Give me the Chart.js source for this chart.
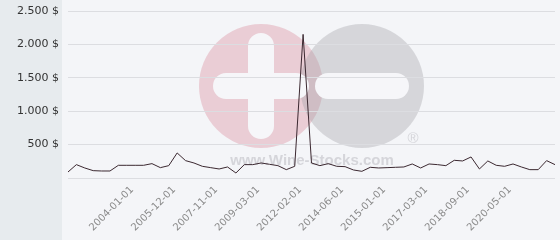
<!DOCTYPE html>
<html>
<head>
<meta charset="utf-8">
<script src="https://cdn.jsdelivr.net/npm/chart.js@4/dist/chart.umd.min.js"></script>
<style>
    html, body { margin: 0; padding: 0; background: #f4f5f8; }
    #caixa { width: 560px; height: 240px; position: relative; }
</style>
</head>
<body>
<div id="caixa"><canvas id="grafico-preco"></canvas></div>
<script>
// datas de cada ponto (eixo de categorias)
const datas = [
    '2001-03-01', '2001-07-01', '2001-11-01', '2002-03-01', '2002-07-01', '2002-11-01', '2003-03-01', '2003-08-01',
    '2004-01-01', '2004-06-01', '2004-11-01', '2005-03-01', '2005-08-01',
    '2005-12-01', '2006-05-01', '2006-09-01', '2007-02-01', '2007-06-01',
    '2007-11-01', '2008-02-01', '2008-05-01', '2008-09-01', '2008-12-01',
    '2009-03-01', '2009-10-01', '2010-05-01', '2010-12-01', '2011-07-01',
    '2012-02-01', '2012-08-01', '2013-01-01', '2013-07-01', '2013-12-01',
    '2014-06-01', '2014-07-01', '2014-09-01', '2014-10-01', '2014-12-01',
    '2015-01-01', '2015-06-01', '2015-11-01', '2016-05-01', '2016-10-01',
    '2017-03-01', '2017-07-01', '2017-10-01', '2018-02-01', '2018-05-01',
    '2018-09-01', '2019-01-01', '2019-05-01', '2019-09-01', '2020-01-01',
    '2020-05-01', '2020-09-01', '2021-01-01', '2021-05-01', '2021-09-01', '2022-01-01'
];

// preço em $
const precos = [
    90, 200, 150, 110, 105, 105, 190, 190, 190, 190,
    215, 155, 185, 375, 260, 225, 175, 155, 135, 165,
    75, 200, 200, 225, 205, 185, 125, 175, 2150, 225,
    185, 215, 175, 170, 120, 100, 160, 150, 155, 160,
    165, 210, 150, 210, 200, 185, 265, 255, 315, 135,
    255, 190, 175, 210, 165, 125, 125, 260, 200
];

// rótulos que aparecem no eixo x
const rotulosVisiveis = [
    '2004-01-01', '2005-12-01', '2007-11-01', '2009-03-01', '2012-02-01',
    '2014-06-01', '2015-01-01', '2017-03-01', '2018-09-01', '2020-05-01'
];

const ticksY = [0, 500, 1000, 1500, 2000, 2500];

const cores = {
    painel: '#e7ebee',
    fundo: '#f4f5f8',
    grade: '#dcdde1',
    linha: '#3b2830',
    textoY: '#333333',
    textoX: '#8a8a8a'
};

function formatarDolar(valor) {
    if (valor === 0) return '';
    return String(valor).replace(/\B(?=(\d{3})+(?!\d))/g, '.') + ' $';
}

// fundo e marca d'água
const fundoPlugin = {
    id: 'fundo',
    beforeDraw(chart) {
        const ctx = chart.ctx;
        ctx.save();
        ctx.fillStyle = cores.fundo;
        ctx.fillRect(0, 0, chart.width, chart.height);
        ctx.fillStyle = cores.painel;
        ctx.fillRect(0, 0, 62, chart.height);

        // círculo rosa com +
        ctx.fillStyle = 'rgba(215, 120, 140, 0.32)';
        ctx.beginPath();
        ctx.arc(261, 86, 62, 0, Math.PI * 2);
        ctx.fill();
        // círculo cinza com -
        ctx.fillStyle = 'rgba(160, 160, 165, 0.36)';
        ctx.beginPath();
        ctx.arc(362, 86, 62, 0, Math.PI * 2);
        ctx.fill();

        ctx.fillStyle = '#f6f6f9';
        ctx.beginPath();
        ctx.roundRect(213, 73, 96, 26, 13);
        ctx.roundRect(248, 33, 26, 106, 13);
        ctx.fill();
        ctx.beginPath();
        ctx.roundRect(315, 73, 94, 26, 13);
        ctx.fill();

        ctx.fillStyle = 'rgba(200, 200, 205, 0.7)';
        ctx.font = 'bold 15px "Liberation Sans"';
        ctx.textAlign = 'center';
        ctx.textBaseline = 'alphabetic';
        ctx.fillText('www.Wine-Stocks.com', 312, 165);
        ctx.font = '15px "Liberation Sans"';
        ctx.fillText('®', 413, 143);
        ctx.restore();
    }
};

new Chart(document.getElementById('grafico-preco'), {
    type: 'line',
    data: {
        labels: datas,
        datasets: [{
            label: 'Preço',
            data: precos,
            borderColor: cores.linha,
            borderWidth: 1,
            pointRadius: 0,
            tension: 0,
            fill: false
        }]
    },
    options: {
        responsive: true,
        maintainAspectRatio: false,
        animation: false,
        layout: { padding: { top: 11, right: 5, bottom: 0, left: 0 } },
        plugins: {
            legend: { display: false },
            tooltip: { enabled: false }
        },
        scales: {
            x: {
                offset: false,
                grid: { display: false, drawTicks: false },
                border: { display: false },
                afterFit: (escala) => {
                    escala.height = 62;
                    escala.paddingLeft = 0;
                    escala.paddingRight = 0;
                },
                ticks: {
                    autoSkip: false,
                    minRotation: 45,
                    maxRotation: 45,
                    padding: 6,
                    labelOffset: -3,
                    color: cores.textoX,
                    font: { family: 'DejaVu Sans', size: 10 },
                    callback: (valor, i) => rotulosVisiveis.includes(datas[i]) ? datas[i] : ''
                }
            },
            y: {
                min: ticksY[0],
                max: ticksY[ticksY.length - 1],
                afterBuildTicks: (escala) => { escala.ticks = ticksY.map(v => ({ value: v })); },
                afterFit: (escala) => {
                    escala.width = 68;
                    escala.paddingTop = 0;
                    escala.paddingBottom = 0;
                },
                grid: { color: cores.grade, drawTicks: false },
                border: { display: false },
                ticks: {
                    padding: 9,
                    color: cores.textoY,
                    font: { family: 'DejaVu Sans', size: 11 },
                    callback: (valor) => formatarDolar(valor)
                }
            }
        }
    },
    plugins: [fundoPlugin]
});
</script>
</body>
</html>
